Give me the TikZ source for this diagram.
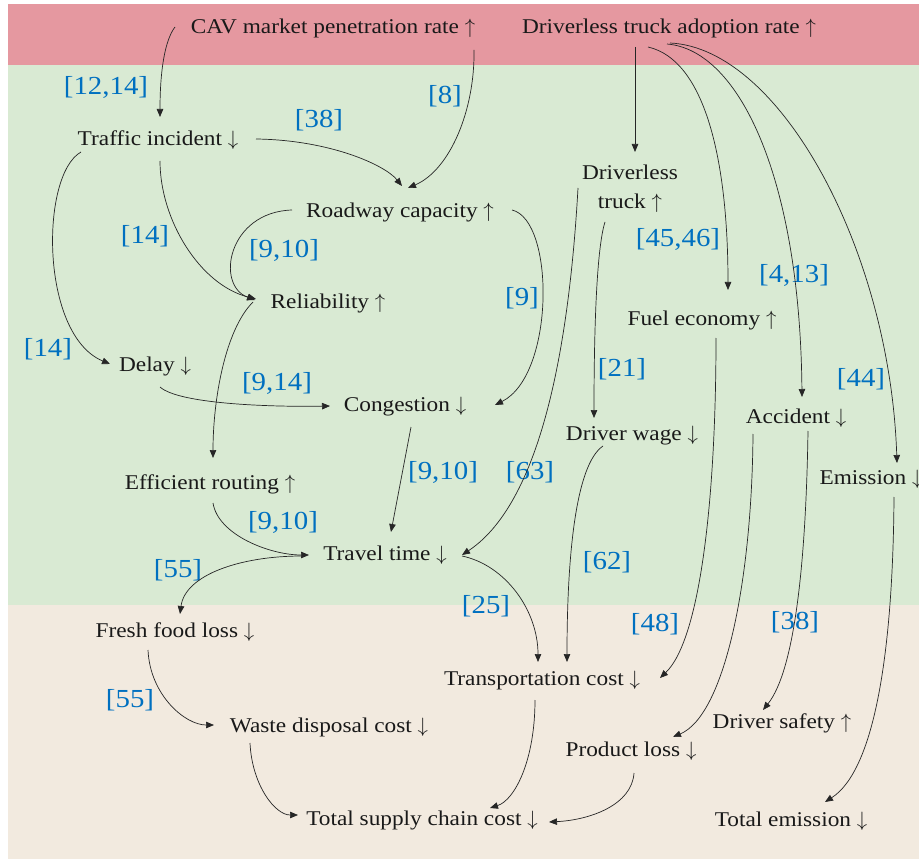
\documentclass[tikz,border=0pt]{standalone}
\usepackage{fontspec}
\setmainfont{Liberation Serif}[FakeStretch=1.11]
\usetikzlibrary{arrows.meta}
\definecolor{bandred}{RGB}{229,152,160}
\definecolor{bandgreen}{RGB}{217,234,211}
\definecolor{bandbeige}{RGB}{242,234,223}
\definecolor{refblue}{RGB}{0,112,192}
\newcommand{\up}{$\uparrow$}
\newcommand{\dn}{$\downarrow$}
\begin{document}
\begin{tikzpicture}[x=1pt,y=-1pt,
  lbl/.style={font=\fontsize{21}{29}\selectfont, inner sep=0pt, align=center, text=black!90},
  refl/.style={font=\fontsize{26}{30}\selectfont, text=refblue, inner sep=0pt},
  conn/.style={-{Triangle[length=8pt,width=6.5pt]}, line width=0.7pt, draw=black!85}]
\useasboundingbox (0,0) rectangle (919,861);
\fill[white] (0,0) rectangle (919,861);
\fill[bandred] (8,4) rectangle (919,65);
\fill[bandgreen] (8,65) rectangle (919,605);
\fill[bandbeige] (8,605) rectangle (919,859);
% nodes
\node[lbl] (cav) at (333,28) {CAV market penetration rate \up};
\node[lbl] (dta) at (669,28) {Driverless truck adoption rate \up};
\node[lbl] (ti) at (158,140) {Traffic incident \dn};
\node[lbl] (rc) at (400,212) {Roadway capacity \up};
\node[lbl] (rel) at (328,303) {Reliability \up};
\node[lbl] (delay) at (155,366) {Delay \dn};
\node[lbl] (cong) at (405,407) {Congestion \dn};
\node[lbl] (er) at (210,484) {Efficient routing \up};
\node[lbl] (tt) at (385,555) {Travel time \dn};
\node[lbl] (dt) at (630,189) {Driverless\\truck \up};
\node[lbl] (fe) at (702,320) {Fuel economy \up};
\node[lbl] (acc) at (796,418) {Accident \dn};
\node[lbl] (dw) at (632,436) {Driver wage \dn};
\node[lbl] (em) at (871,479) {Emission \dn};
\node[lbl] (ffl) at (175,632) {Fresh food loss \dn};
\node[lbl] (wdc) at (329,727) {Waste disposal cost \dn};
\node[lbl] (tc) at (542,681) {Transportation cost \dn};
\node[lbl] (pl) at (631,751) {Product loss \dn};
\node[lbl] (ds) at (782,723) {Driver safety \up};
\node[lbl] (tscc) at (422,820) {Total supply chain cost \dn};
\node[lbl] (te) at (791,821) {Total emission \dn};
% reference labels
\node[refl] (r1) at (106,87) {[12,14]};
\node[refl] (r2) at (445,96) {[8]};
\node[refl] (r3) at (319,120) {[38]};
\node[refl] (r4) at (145,236) {[14]};
\node[refl] (r5) at (284,250) {[9,10]};
\node[refl] (r6) at (522,298) {[9]};
\node[refl] (r7) at (678,239) {[45,46]};
\node[refl] (r8) at (794,275) {[4,13]};
\node[refl] (r9) at (48,349) {[14]};
\node[refl] (r10) at (277,383) {[9,14]};
\node[refl] (r11) at (622,369) {[21]};
\node[refl] (r12) at (861,379) {[44]};
\node[refl] (r13) at (443,472) {[9,10]};
\node[refl] (r14) at (530,472) {[63]};
\node[refl] (r15) at (283,522) {[9,10]};
\node[refl] (r16) at (178,570) {[55]};
\node[refl] (r17) at (607,562) {[62]};
\node[refl] (r18) at (486,606) {[25]};
\node[refl] (r19) at (655,624) {[48]};
\node[refl] (r20) at (795,622) {[38]};
\node[refl] (r21) at (130,700) {[55]};
% connectors
\draw[conn] ([shift={(-158,-1)}]cav.center) .. controls (165,40) and (160,70) .. ([shift={(2,-23)}]ti.center);
\draw[conn] ([shift={(141,22)}]cav.center) .. controls (475,110) and (450,170) .. ([shift={(8,-24)}]rc.center);
\draw[conn] ([shift={(98,-1)}]ti.center) .. controls (330,140) and (385,165) .. ([shift={(2,-26)}]rc.center);
\draw[conn] ([shift={(2,21)}]ti.center) .. controls (160,220) and (200,285) .. ([shift={(-72,-4)}]rel.center);
\draw[conn] ([shift={(-77,12)}]ti.center) .. controls (40,175) and (40,335) .. ([shift={(-45,-2)}]delay.center);
\draw[conn] ([shift={(-108,-2)}]rc.center) .. controls (228,212) and (215,285) .. ([shift={(-73,-3)}]rel.center);
\draw[conn] ([shift={(-75,-1)}]rel.center) .. controls (225,330) and (213,400) .. ([shift={(3,-26)}]er.center);
\draw[conn] ([shift={(112,-2)}]rc.center) .. controls (555,220) and (555,375) .. ([shift={(90,-2)}]cong.center);
\draw[conn] ([shift={(5,21)}]delay.center) .. controls (180,405) and (280,407) .. ([shift={(-75,-1)}]cong.center);
\draw[conn] ([shift={(6,20)}]cong.center) -- ([shift={(6,-23)}]tt.center);
\draw[conn] ([shift={(3,19)}]er.center) .. controls (218,535) and (270,555) .. ([shift={(-76,0)}]tt.center);
\draw[conn] ([shift={(-83,1)}]tt.center) .. controls (240,556) and (185,575) .. ([shift={(5,-18)}]ffl.center);
\draw[conn] ([shift={(-52,-1)}]dt.center) .. controls (570,330) and (545,500) .. ([shift={(77,0)}]tt.center);
\draw[conn] ([shift={(77,1)}]tt.center) .. controls (505,565) and (538,610) .. ([shift={(-4,-19)}]tc.center);
\draw[conn] ([shift={(-25,33)}]dt.center) .. controls (596,250) and (594,340) .. ([shift={(-38,-18)}]dw.center);
\draw[conn] ([shift={(-29,10)}]dw.center) .. controls (575,465) and (567,560) .. ([shift={(25,-19)}]tc.center);
\draw[conn] ([shift={(-34,19)}]dta.center) -- ([shift={(5,-37)}]dt.center);
\draw[conn] ([shift={(-21,19)}]dta.center) .. controls (705,60) and (728,160) .. ([shift={(26,-30)}]fe.center);
\draw[conn] ([shift={(-2,16)}]dta.center) .. controls (740,50) and (800,180) .. ([shift={(6,-21)}]acc.center);
\draw[conn] ([shift={(1,15)}]dta.center) .. controls (780,48) and (890,250) .. ([shift={(26,-16)}]em.center);
\draw[conn] ([shift={(14,18)}]fe.center) .. controls (716,500) and (700,640) .. ([shift={(118,-3)}]tc.center);
\draw[conn] ([shift={(-43,16)}]acc.center) .. controls (752,580) and (725,715) .. ([shift={(42,-14)}]pl.center);
\draw[conn] ([shift={(12,13)}]acc.center) .. controls (806,560) and (795,670) .. ([shift={(-19,-13)}]ds.center);
\draw[conn] ([shift={(23,18)}]em.center) .. controls (893,650) and (875,770) .. ([shift={(34,-19)}]te.center);
\draw[conn] ([shift={(-27,18)}]ffl.center) .. controls (150,695) and (185,725) .. ([shift={(-115,-2)}]wdc.center);
\draw[conn] ([shift={(-79,16)}]wdc.center) .. controls (252,785) and (275,815) .. ([shift={(-124,-5)}]tscc.center);
\draw[conn] ([shift={(-7,19)}]tc.center) .. controls (535,760) and (515,800) .. ([shift={(68,-12)}]tscc.center);
\draw[conn] ([shift={(3,22)}]pl.center) .. controls (632,805) and (590,820) .. ([shift={(127,2)}]tscc.center);
\end{tikzpicture}
\end{document}
